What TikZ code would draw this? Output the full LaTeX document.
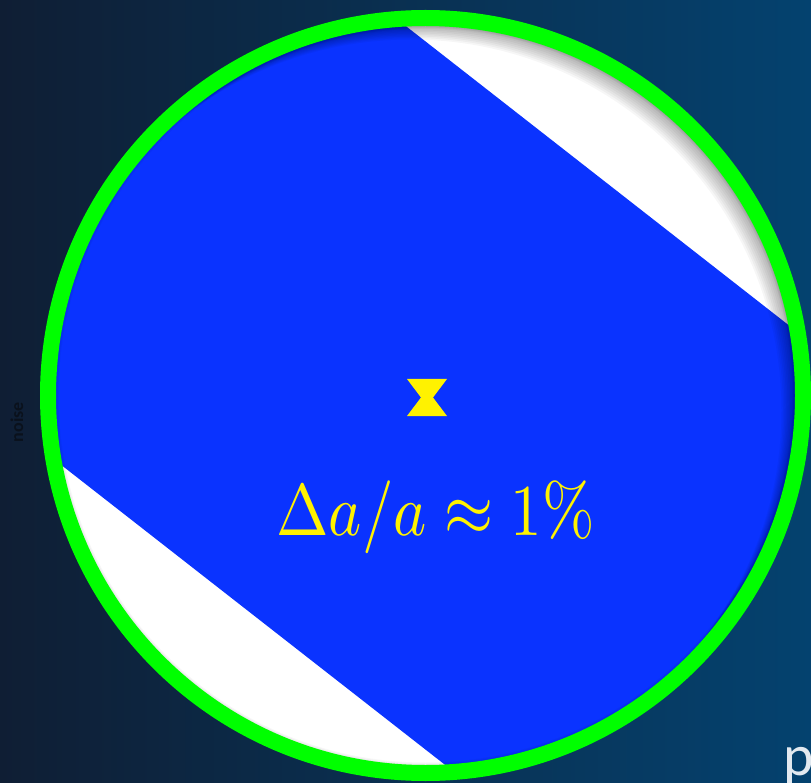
\documentclass[tikz,border=0pt]{standalone}
\usepackage{fontspec}
\newfontfamily\carlito{Carlito}
\usetikzlibrary{calc}
\definecolor{bgL}{HTML}{0F1E34}
\definecolor{bgR}{HTML}{04426F}
\definecolor{bandblue}{HTML}{0A33FF}
\definecolor{ringgreen}{HTML}{00FF00}
\definecolor{noiseC}{HTML}{0A111C}
\definecolor{pC}{HTML}{E2E9F0}
\begin{document}
\begin{tikzpicture}[x=1pt,y=-1pt,
  ring/.style={draw=ringgreen, line width=16pt},
  eqtext/.style={text=yellow, inner sep=0pt},
  sidelabel/.style={text=noiseC, inner sep=0pt, font=\carlito\bfseries\fontsize{18}{20}\selectfont},
  cornerlabel/.style={text=pC, inner sep=0pt, font=\carlito\fontsize{58}{60}\selectfont}]
\useasboundingbox (0,0) rectangle (811,783);
\shade[left color=bgL, right color=bgR] (0,0) rectangle (811,783);
\coordinate (c) at (425.5,395.5);
\begin{scope}
  \clip (c) circle (371);
  \fill[white] (c) circle (371);
  \fill[bandblue, rotate around={-38:(c)}] ($(c)+(-600,-279)$) rectangle ($(c)+(600,279)$);
  \foreach \k in {1,...,10} {
    \fill[black, opacity=0.035, even odd rule] (c) circle (420) ($(c)+(-1.5*\k,1.5*\k)$) circle (371);
  }
  \foreach \k in {1,...,4} {
    \draw[black, opacity=0.03, line width=2*\k pt] (c) circle (371);
  }
\end{scope}
\draw[ring] (c) circle (377.5);
\fill[yellow] (407,379) -- (447,379) -- (433,397.5) -- (447,416) -- (407,416) -- (421,397.5) -- cycle;
\node[eqtext, anchor=base] (eq) at (435.5,535) {\scalebox{6.3}[7.3]{$\Delta a/a \approx 1\%$}};
\node[sidelabel, rotate=90] (noise) at (17,422) {noise};
\node[cornerlabel, anchor=base west] (p) at (783,775) {p};
\end{tikzpicture}
\end{document}
